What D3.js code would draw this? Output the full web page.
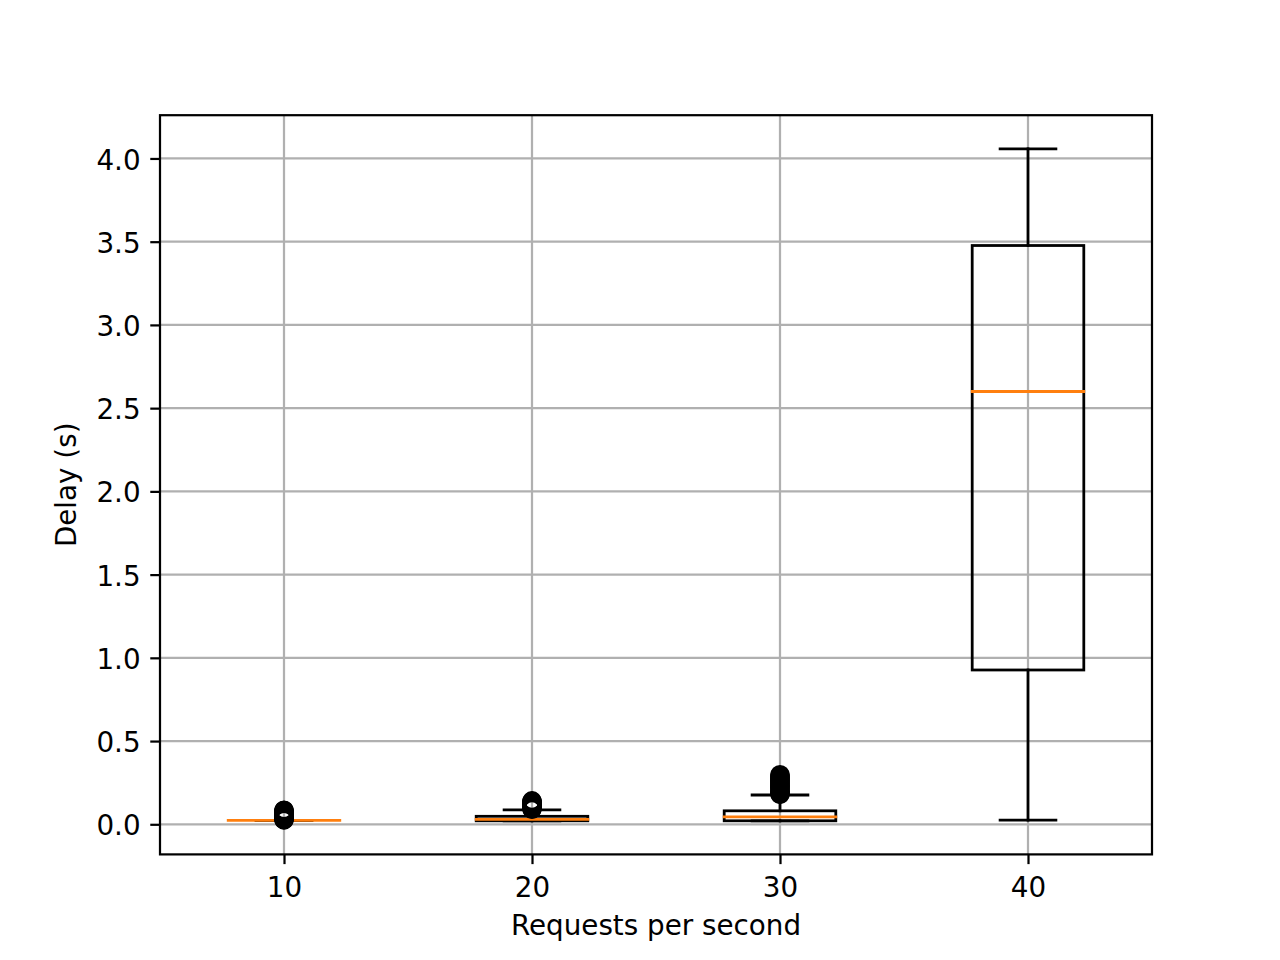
<!DOCTYPE html>
<html>
<head>
<meta charset="utf-8">
<script src="https://cdn.jsdelivr.net/npm/d3@7"></script>
<style>
  body { margin: 0; background: #fff; }
</style>
</head>
<body>
<div id="d3-container"></div>
<script>
// Values (one box per request rate)
const categorias = [10, 20, 30, 40];
const q1 = [0.024, 0.021, 0.021, 0.927];
const medianas = [0.024, 0.030, 0.045, 2.600];
const q3 = [0.024, 0.048, 0.081, 3.477];
const bigoteInf = [0.024, 0.021, 0.021, 0.025];
const bigoteSup = [0.024, 0.086, 0.176, 4.058];

// Outliers (dense column of hollow circles)
const atipicos10 = [0.026, 0.028, 0.031, 0.033, 0.036, 0.039, 0.041, 0.044, 0.047, 0.050, 0.052,
  0.055, 0.058, 0.061, 0.063, 0.066, 0.069, 0.072, 0.074, 0.077, 0.080, 0.083, 0.085];
const atipicos20 = [0.090, 0.093, 0.096, 0.099, 0.102, 0.105, 0.108, 0.111, 0.114, 0.117,
  0.120, 0.123, 0.126, 0.129, 0.132, 0.135, 0.138, 0.141];
const atipicos30 = [0.179, 0.184, 0.189, 0.194, 0.199, 0.205, 0.210, 0.216, 0.221, 0.227,
  0.233, 0.238, 0.244, 0.250, 0.256, 0.262, 0.268, 0.274, 0.280, 0.286, 0.292, 0.298];
const atipicos40 = [];
const atipicos = [atipicos10, atipicos20, atipicos30, atipicos40];

const xTicks = [10, 20, 30, 40];
const yTicks = [0.0, 0.5, 1.0, 1.5, 2.0, 2.5, 3.0, 3.5, 4.0];
const xLim = [5, 45];
const anchoCaja = 4.5;

// Figure layout (matplotlib default at 200 dpi)
const width = 1280;
const height = 960;
const margin = { top: 115.2, right: 128, bottom: 105.6, left: 160 };
const pt = 200 / 72;
const fuente = 'DejaVu Sans, Liberation Sans, sans-serif';
const tamFuente = 10 * pt;

const svg = d3.select('#d3-container')
  .append('svg')
  .attr('width', width)
  .attr('height', height)
  .attr('viewBox', [0, 0, width, height])
  .style('background', '#fff');

const datos = categorias.map((c, i) => ({
  pos: c, q1: q1[i], med: medianas[i], q3: q3[i],
  lo: bigoteInf[i], hi: bigoteSup[i], fliers: atipicos[i]
}));

// y limits: data extent plus a 5% margin, like matplotlib autoscale
const todos = datos.flatMap(d => [d.lo, d.hi, d.q1, d.q3, ...d.fliers]);
const [yMin, yMax] = d3.extent(todos);
const pad = (yMax - yMin) * 0.05;

const x = d3.scaleLinear()
  .domain(xLim)
  .range([margin.left, width - margin.right]);

const y = d3.scaleLinear()
  .domain([yMin - pad, yMax + pad])
  .range([height - margin.bottom, margin.top]);

// Grid below the boxes
const grid = svg.append('g')
  .attr('stroke', '#b0b0b0')
  .attr('stroke-width', 0.8 * pt);

grid.selectAll('line.gx')
  .data(xTicks)
  .join('line')
  .attr('class', 'gx')
  .attr('x1', d => x(d)).attr('x2', d => x(d))
  .attr('y1', margin.top).attr('y2', height - margin.bottom);

grid.selectAll('line.gy')
  .data(yTicks)
  .join('line')
  .attr('class', 'gy')
  .attr('x1', margin.left).attr('x2', width - margin.right)
  .attr('y1', d => y(d)).attr('y2', d => y(d));

// Boxes: whiskers, caps, box, median, fliers (same order as matplotlib)
const lw = 1 * pt;
const cajas = svg.append('g')
  .attr('fill', 'none')
  .attr('stroke-width', lw)
  .attr('stroke-linecap', 'square');

datos.forEach(d => {
  const g = cajas.append('g');
  const mitad = anchoCaja / 2;
  const mitadCap = anchoCaja / 4;

  // whiskers
  g.append('line')
    .attr('stroke', '#000')
    .attr('x1', x(d.pos)).attr('x2', x(d.pos))
    .attr('y1', y(d.q1)).attr('y2', y(d.lo));
  g.append('line')
    .attr('stroke', '#000')
    .attr('x1', x(d.pos)).attr('x2', x(d.pos))
    .attr('y1', y(d.q3)).attr('y2', y(d.hi));

  // caps
  [d.lo, d.hi].forEach(v => {
    g.append('line')
      .attr('stroke', '#000')
      .attr('x1', x(d.pos - mitadCap)).attr('x2', x(d.pos + mitadCap))
      .attr('y1', y(v)).attr('y2', y(v));
  });

  // box
  g.append('rect')
    .attr('stroke', '#000')
    .attr('stroke-linejoin', 'miter')
    .attr('x', x(d.pos - mitad))
    .attr('width', x(d.pos + mitad) - x(d.pos - mitad))
    .attr('y', y(d.q3))
    .attr('height', Math.max(0, y(d.q1) - y(d.q3)));

  // median
  g.append('line')
    .attr('stroke', '#ff7f0e')
    .attr('x1', x(d.pos - mitad)).attr('x2', x(d.pos + mitad))
    .attr('y1', y(d.med)).attr('y2', y(d.med));

  // fliers
  g.selectAll('circle')
    .data(d.fliers)
    .join('circle')
    .attr('stroke', '#000')
    .attr('cx', x(d.pos))
    .attr('cy', v => y(v))
    .attr('r', 3 * pt);
});

// Spines
svg.append('rect')
  .attr('x', margin.left)
  .attr('y', margin.top)
  .attr('width', width - margin.left - margin.right)
  .attr('height', height - margin.top - margin.bottom)
  .attr('fill', 'none')
  .attr('stroke', '#000')
  .attr('stroke-width', 0.8 * pt);

function ejeX(g) {
  g.attr('transform', `translate(0, ${height - margin.bottom})`)
    .call(d3.axisBottom(x).tickValues(xTicks).tickFormat(d3.format('d'))
      .tickSize(3.5 * pt).tickPadding(3.5 * pt))
    .attr('font-family', fuente)
    .attr('font-size', tamFuente);
  g.select('.domain').remove();
  g.selectAll('.tick line').attr('stroke-width', 0.8 * pt);
  g.selectAll('.tick text').attr('dy', '0.84em');
}

function ejeY(g) {
  g.attr('transform', `translate(${margin.left}, 0)`)
    .call(d3.axisLeft(y).tickValues(yTicks).tickFormat(d3.format('.1f'))
      .tickSize(3.5 * pt).tickPadding(3.5 * pt))
    .attr('font-family', fuente)
    .attr('font-size', tamFuente);
  g.select('.domain').remove();
  g.selectAll('.tick line').attr('stroke-width', 0.8 * pt);
  g.selectAll('.tick text').attr('dy', '0.38em');
}

svg.append('g').call(ejeX);
svg.append('g').call(ejeY);

// Axis titles
svg.append('text')
  .attr('x', (margin.left + width - margin.right) / 2)
  .attr('y', 934.5)
  .attr('text-anchor', 'middle')
  .attr('font-family', fuente)
  .attr('font-size', tamFuente)
  .text('Requests per second');

svg.append('text')
  .attr('transform', `translate(76, ${(margin.top + height - margin.bottom) / 2}) rotate(-90)`)
  .attr('text-anchor', 'middle')
  .attr('font-family', fuente)
  .attr('font-size', tamFuente)
  .text('Delay (s)');
</script>
</body>
</html>
